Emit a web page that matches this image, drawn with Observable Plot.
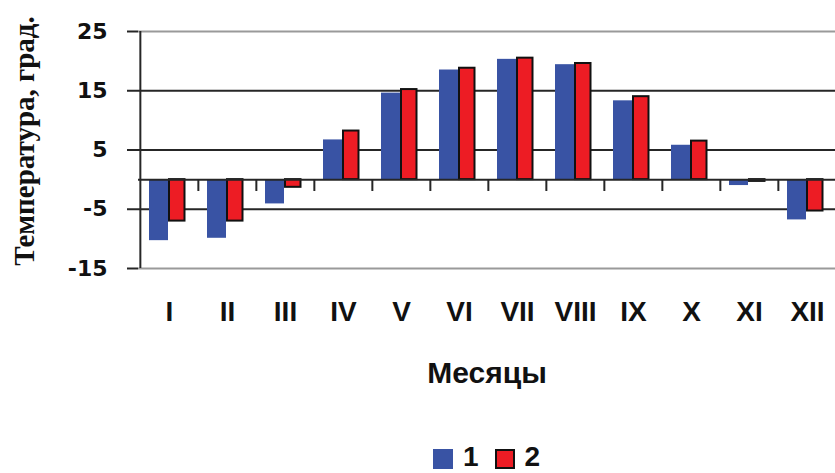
<!DOCTYPE html>
<html>
<head>
<meta charset="utf-8">
<script src="https://cdn.jsdelivr.net/npm/d3@7"></script>
<script src="https://cdn.jsdelivr.net/npm/@observablehq/plot@0.6"></script>
<style>
  body { margin: 0; background: #fff; overflow: hidden; }
  #chart svg { display: block; }
  #legend {
    width: 835px; height: 37px; box-sizing: border-box; padding-left: 138px;
    display: flex; justify-content: center; align-items: center;
    font-family: "Liberation Sans", Arial, sans-serif; font-weight: bold; font-size: 28px; color: #111;
  }
  #legend .item { display: flex; align-items: center; margin: 0 8px; height: 37px; }
  #legend .swatch { width: 20px; height: 20px; box-sizing: border-box; margin-right: 10px; position: relative; top: 4px; }
  #legend .name { display: inline-block; line-height: 28px; position: relative; top: 2px; }
</style>
</head>
<body>
<div id="chart"></div>
<script>
// Monthly mean air temperature, two series
const months = ["I", "II", "III", "IV", "V", "VI", "VII", "VIII", "IX", "X", "XI", "XII"];
const series1 = [-10.3, -9.9, -4.1, 6.7, 14.6, 18.5, 20.3, 19.4, 13.3, 5.8, -1.0, -6.8];
const series2 = [-7.0, -7.0, -1.3, 8.2, 15.2, 18.8, 20.5, 19.6, 14.0, 6.5, -0.3, -5.3];
const seriesNames = ["1", "2"];
const seriesColors = ["#3953a4", "#ed1c24"];
const yTicks = [25, 15, 5, -5, -15];
const yTitle = "Температура, град.";
const xTitle = "Месяцы";

const rows1 = months.map((m, i) => ({month: m, value: series1[i]}));
const rows2 = months.map((m, i) => ({month: m, value: series2[i]}));

const dark = "#262626";
const grey = "#9a9a9a";
const x0 = 138.4, x1 = 838;
const bw = (x1 - x0) / months.length;
const yMax = d3.max(yTicks), yMin = d3.min(yTicks);

const chart = Plot.plot({
  width: 835,
  height: 436,
  marginLeft: 138,
  marginRight: 0,
  marginTop: 31,
  marginBottom: 168,
  x: {domain: months, range: [x0, x1], padding: 0},
  y: {domain: [yMin, yMax]},
  style: {fontFamily: "'Liberation Sans', Arial, sans-serif", background: "white", color: "#111", overflow: "visible"},
  marks: [
    // horizontal grid: outer lines lighter
    Plot.ruleY(yTicks.filter(d => d !== yMax && d !== yMin), {stroke: dark, strokeWidth: 2}),
    Plot.ruleY(yTicks.filter(d => d === yMax || d === yMin), {stroke: grey, strokeWidth: 2}),
    // series 1: plain blue bars
    Plot.barY(rows1, {x: "month", y: "value", fill: seriesColors[0], insetLeft: 9, insetRight: 30}),
    // series 2: red bars with black outline
    Plot.barY(rows2, {x: "month", y: "value", fill: seriesColors[1], stroke: "#111", strokeWidth: 2, insetLeft: 29, insetRight: 13.5}),
    // category axis along zero
    Plot.ruleY([0], {stroke: dark, strokeWidth: 2}),
    Plot.ruleX(months.slice(1), {x: d => d, y1: 0, y2: -2, dx: -bw / 2, stroke: dark, strokeWidth: 2}),
    // value axis line
    Plot.ruleX([months[0]], {x: d => d, y1: yMin, y2: yMax, dx: -bw / 2, stroke: dark, strokeWidth: 2}),
    Plot.axisY({ticks: yTicks, tickSize: 11, tickPadding: 20, tickFormat: d => String(d), label: null,
      fontFamily: "'DejaVu Sans', sans-serif", fontWeight: "bold", fontSize: 22, strokeWidth: 2, stroke: dark}),
    Plot.axisX({tickSize: 0, tickPadding: 33, label: null, fontWeight: "bold", fontSize: 28}),
    Plot.text([xTitle], {text: d => d, frameAnchor: "bottom", dy: 105, lineAnchor: "middle", fontWeight: "bold", fontSize: 30}),
    Plot.text([yTitle], {text: d => d, frameAnchor: "left", textAnchor: "middle", rotate: -90, dx: -114, dy: -9, lineAnchor: "middle",
      fontFamily: "'Liberation Serif', 'Times New Roman', serif", fontWeight: "bold", fontSize: 29})
  ]
});
document.getElementById("chart").append(chart);

// legend below the plot
const legend = d3.select("body").append("div").attr("id", "legend");
seriesNames.forEach((name, i) => {
  const item = legend.append("span").attr("class", "item");
  item.append("span").attr("class", "swatch")
    .style("background", seriesColors[i])
    .style("border", i === 1 ? "2px solid #111" : "none");
  item.append("span").attr("class", "name").text(name);
});
</script>
</body>
</html>
